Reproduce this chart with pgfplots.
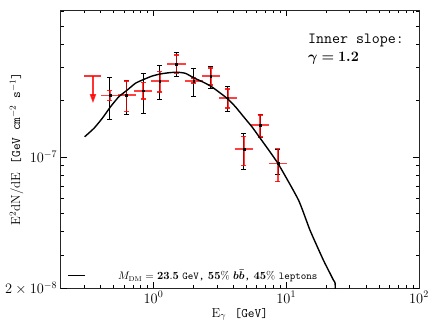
\documentclass[border=0pt]{standalone}
\usepackage{pgfplots}
\pgfplotsset{compat=1.18}
\usepackage{pgfplotstable}
\usepackage{amsmath,bm}
\usetikzlibrary{arrows.meta}

% black error bars (total)
\pgfplotstableread{
x      y        ep       em
0.469  2.13e-7  0.53e-7  0.54e-7
0.627  2.15e-7  0.41e-7  0.47e-7
0.837  2.26e-7  0.54e-7  0.56e-7
1.115  2.55e-7  0.52e-7  0.51e-7
1.49   3.14e-7  0.47e-7  0.45e-7
2.01   2.55e-7  0.43e-7  0.43e-7
2.70   2.70e-7  0.34e-7  0.37e-7
3.62   2.07e-7  0.30e-7  0.31e-7
4.79   1.10e-7  0.23e-7  0.237e-7
6.37   1.48e-7  0.20e-7  0.20e-7
8.66   0.925e-7 0.175e-7 0.114e-7
}\blackerr

% red error bars (stat) with energy bins
\pgfplotstableread{
x      y        ep        em        xp     xm
0.469  2.13e-7  0.13e-7   0.13e-7   0.080  0.068
0.627  2.15e-7  0.40e-7   0.40e-7   0.107  0.091
0.837  2.26e-7  0.24e-7   0.22e-7   0.142  0.121
1.115  2.55e-7  0.31e-7   0.32e-7   0.190  0.162
1.49   3.14e-7  0.37e-7   0.34e-7   0.253  0.216
2.01   2.55e-7  0.09e-7   0.06e-7   0.342  0.291
2.70   2.70e-7  0.29e-7   0.27e-7   0.459  0.392
3.62   2.07e-7  0.24e-7   0.24e-7   0.615  0.525
4.79   1.10e-7  0.19e-7   0.20e-7   0.814  0.695
6.37   1.48e-7  0.20e-7   0.20e-7   1.083  0.924
8.66   0.925e-7 0.185e-7  0.187e-7  1.472  1.256
}\rederr

% DM model spectrum
\pgfplotstableread{
x      y
0.303  1.284e-7
0.356  1.424e-7
0.411  1.61e-7
0.475  1.858e-7
0.548  2.10e-7
0.634  2.28e-7
0.732  2.48e-7
0.846  2.60e-7
0.978  2.71e-7
1.129  2.78e-7
1.303  2.82e-7
1.506  2.84e-7
1.742  2.80e-7
2.01   2.65e-7
2.32   2.53e-7
2.68   2.40e-7
3.10   2.23e-7
3.58   2.06e-7
4.14   1.858e-7
4.77   1.643e-7
5.52   1.45e-7
6.37   1.26e-7
8.66   0.925e-7
12.38  0.589e-7
15.1   0.407e-7
19.08  0.281e-7
22.7   0.22e-7
23.4   0.205e-7
23.45  1.0e-8
}\model

\begin{document}
\begin{tikzpicture}
\useasboundingbox (-60.7pt,-36pt) rectangle (371.3pt,288pt);
\begin{axis}[
    at={(0,0)}, anchor=south west,
    scale only axis,
    width=358.3pt, height=278pt,
    xmode=log, ymode=log,
    xmin=0.2, xmax=100,
    ymin=2e-8, ymax=6.1e-7,
    xtick pos=both, ytick pos=both,
    tick align=inside,
    ytick={1e-7},
    yticklabels={$10^{-7}$},
    minor ytick={3e-8,4e-8,5e-8,6e-8,7e-8,8e-8,9e-8,2e-7,3e-7,4e-7,5e-7,6e-7},
    major tick length=6pt, minor tick length=3pt,
    tick style={black, line width=0.6pt},
    axis line style={black!85, line width=1pt},
    extra y ticks={2e-8},
    extra y tick labels={$2\times10^{-8}$},
    ticklabel style={font=\fontsize{14}{16}\selectfont},
    every axis x label/.style={at={(axis description cs:0.5,-0.095)}, anchor=center},
    every axis y label/.style={at={(axis description cs:-0.123,0.5)}, rotate=90, anchor=center},
    label style={font=\fontsize{13}{15}\selectfont},
    xlabel={E$_\gamma$\ \ \texttt{[GeV]}},
    ylabel={E$^2$dN/dE\ \ \texttt{[GeV cm$^{-2}$ s$^{-1}$]}},
    legend style={draw=none, fill=none, at={(axis description cs:0.01,0.01)}, anchor=south west,
        font=\fontsize{10.5}{12}\selectfont, column sep=30pt},
    legend image code/.code={\draw[black, line width=1.6pt] (0pt,0pt) -- (17pt,0pt);},
]
% black error bars
\addplot[forget plot, draw=none, mark=none,
    error bars/.cd, y dir=both, y explicit,
    error bar style={black, line width=0.9pt},
    error mark options={black, line width=0.9pt, mark size=2.5pt, rotate=90}]
    table[x=x, y=y, y error plus=ep, y error minus=em] {\blackerr};
% red horizontal bins
\addplot[forget plot, draw=none, mark=none,
    error bars/.cd, x dir=both, x explicit, error mark=none,
    error bar style={red, opacity=0.75, line width=1.8pt}]
    table[x=x, y=y, x error plus=xp, x error minus=xm] {\rederr};
% red vertical errors
\addplot[forget plot, draw=none, mark=none,
    error bars/.cd, y dir=both, y explicit,
    error bar style={red, opacity=0.75, line width=1.8pt},
    error mark options={red, opacity=0.85, line width=1.3pt, mark size=2.5pt, rotate=90}]
    table[x=x, y=y, y error plus=ep, y error minus=em] {\rederr};
% upper limit
\addplot[forget plot, red, opacity=0.8, line width=1.6pt] coordinates {(0.30,2.71e-7) (0.40,2.71e-7)};
\addplot[forget plot, red, opacity=0.8, line width=1.6pt, -{Triangle[length=9pt, width=6pt]}]
    coordinates {(0.35,2.71e-7) (0.35,1.94e-7)};
% data points
\addplot[forget plot, only marks, mark=square*, mark size=0.9pt, black] table[x=x, y=y] {\blackerr};
% model
\addplot[black, line width=1.4pt, mark=none, smooth, tension=0.3] table[x=x, y=y] {\model};
\addlegendentry{$M_{\mathrm{DM}}=\mathbf{23.5}$ \texttt{GeV,} $\mathbf{55\%}$ $\bm{b\bar{b}}$\texttt{,} $\mathbf{45\%}$ \texttt{leptons}}
\node[anchor=north west, align=left, inner sep=0pt, font=\fontsize{15.5}{18}\selectfont]
    at (rel axis cs:0.69,0.915) {\texttt{Inner slope:}\\$\bm{\gamma=1.2}$};
\end{axis}
\end{tikzpicture}
\end{document}
